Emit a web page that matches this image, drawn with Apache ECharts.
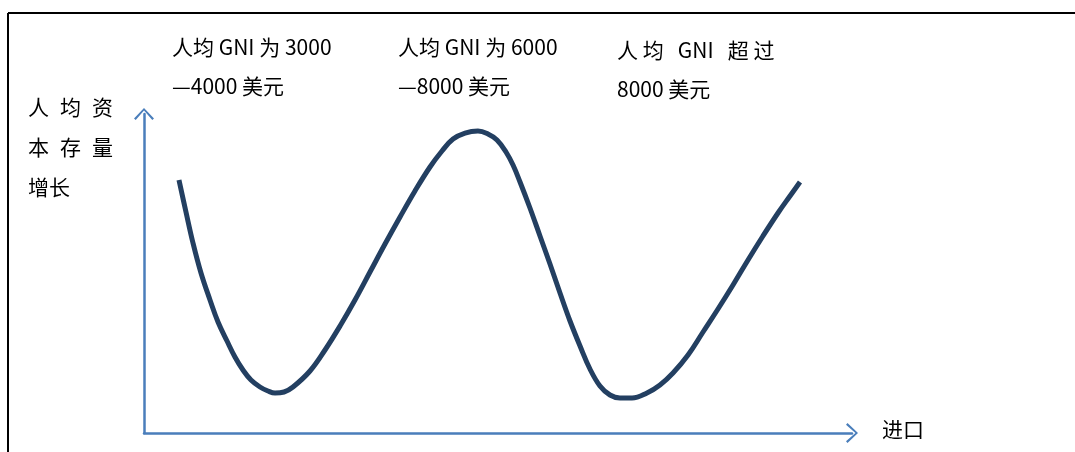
<!DOCTYPE html>
<html>
<head>
<meta charset="utf-8">
<script src="https://cdn.jsdelivr.net/npm/echarts@6/dist/echarts.min.js"></script>
<style>
html, body { margin: 0; padding: 0; background: #fff; }
#chart { width: 1075px; height: 452px; }
</style>
</head>
<body>
<div id="chart"></div>
<script>
// 曲线数据（横轴：进口，纵轴：人均资本存量增长），取自原图
var importLevel = [4.89, 5.87, 6.85, 7.97, 9.23, 10.35, 11.61, 12.72, 13.84, 14.96, 16.22, 17.34, 18.32, 19.58, 20.83, 23.21, 25.31, 27.41, 29.50, 31.60, 33.70, 35.80, 37.89, 39.99, 41.67, 43.21, 44.89, 46.70, 48.10, 49.36, 50.62, 51.60, 52.58, 53.97, 55.37, 56.77, 58.17, 59.57, 60.97, 62.36, 63.76, 65.16, 66.56, 68.24, 70.33, 72.15, 73.97, 76.07, 78.17, 80.26, 82.36, 84.46, 86.55, 88.65, 90.33, 91.73];
var capitalGrowth = [77.72, 67.89, 58.37, 49.15, 40.86, 34.10, 28.26, 23.35, 19.35, 16.28, 14.13, 12.90, 12.29, 12.60, 14.13, 19.05, 25.50, 32.87, 40.86, 49.46, 58.06, 66.36, 74.35, 81.72, 86.63, 90.32, 92.16, 92.78, 91.86, 90.01, 86.33, 82.33, 77.11, 69.12, 60.52, 51.92, 43.01, 34.41, 26.73, 19.66, 14.44, 11.67, 10.75, 10.75, 12.29, 14.75, 18.43, 23.96, 31.03, 38.09, 45.47, 53.15, 60.52, 67.59, 72.81, 77.11];

// 文字
var stageLine1 = ['人均 GNI 为 3000', '人均 GNI 为 6000', '人 均   GNI   超 过'];
var stageLine2 = ['—4000 美元', '—8000 美元', '8000 美元'];
var yNameLines = ['人 均 资', '本 存 量', '增长'];
var xName = '进口';

(function (window) {
    'use strict';
    var axisColor = '#4a7ebb';
    var curveColor = '#233f61';
    var font = '21px "Noto Sans CJK SC", sans-serif';
    // 开口箭头
    var arrowPath = 'path://M0,10.5 L10,0 L20,10.5 L18.3,12 L10,2.6 L1.7,12 Z';

    var points = importLevel.map(function (x, i) { return [x, capitalGrowth[i]]; });

    var stageX = [172, 398, 617];
    var stageY1 = [47, 47, 50];
    var stageY2 = [86, 86, 89];
    var graphics = [
        //外框
        { type: 'line', shape: { x1: 8, y1: 13, x2: 1075, y2: 13 }, style: { stroke: '#000', lineWidth: 2 } },
        { type: 'line', shape: { x1: 8, y1: 13, x2: 8, y2: 452 }, style: { stroke: '#000', lineWidth: 2 } }
    ];
    function addText(t, x, y) {
        graphics.push({ type: 'text', x: x, y: y, style: { text: t, font: font, fill: '#000', verticalAlign: 'middle' } });
    }
    stageX.forEach(function (x, i) {
        addText(stageLine1[i], x, stageY1[i]);
        addText(stageLine2[i], x, stageY2[i]);
    });
    //纵轴名称，分散排列
    var yNameY = [107, 147, 187];
    yNameLines.forEach(function (t, i) {
        t.split(' ').forEach(function (c, j) {
            addText(c, 28 + j * 32, yNameY[i]);
        });
    });
    addText(xName, 882, 429);

    var et = echarts.init(document.getElementById('chart'));
    et.setOption({
        animation: false,
        grid: { left: 144, right: 223, top: 114, bottom: 19 },
        xAxis: {
            type: 'value', min: 0, max: 99,
            axisLine: { show: true, symbol: ['none', arrowPath], symbolSize: [20, 12], lineStyle: { color: axisColor, width: 2.5 } },
            axisTick: { show: false }, axisLabel: { show: false }, splitLine: { show: false }
        },
        yAxis: {
            type: 'value', min: 0, max: 98,
            axisLine: { show: true, symbol: ['none', arrowPath], symbolSize: [20, 12], lineStyle: { color: axisColor, width: 2.5 } },
            axisTick: { show: false }, axisLabel: { show: false }, splitLine: { show: false }
        },
        graphic: graphics,
        series: [{
            type: 'line',
            data: points,
            smooth: 0.4,
            showSymbol: false,
            lineStyle: { color: curveColor, width: 5, join: 'round' }
        }]
    });
})(window);
</script>
</body>
</html>
